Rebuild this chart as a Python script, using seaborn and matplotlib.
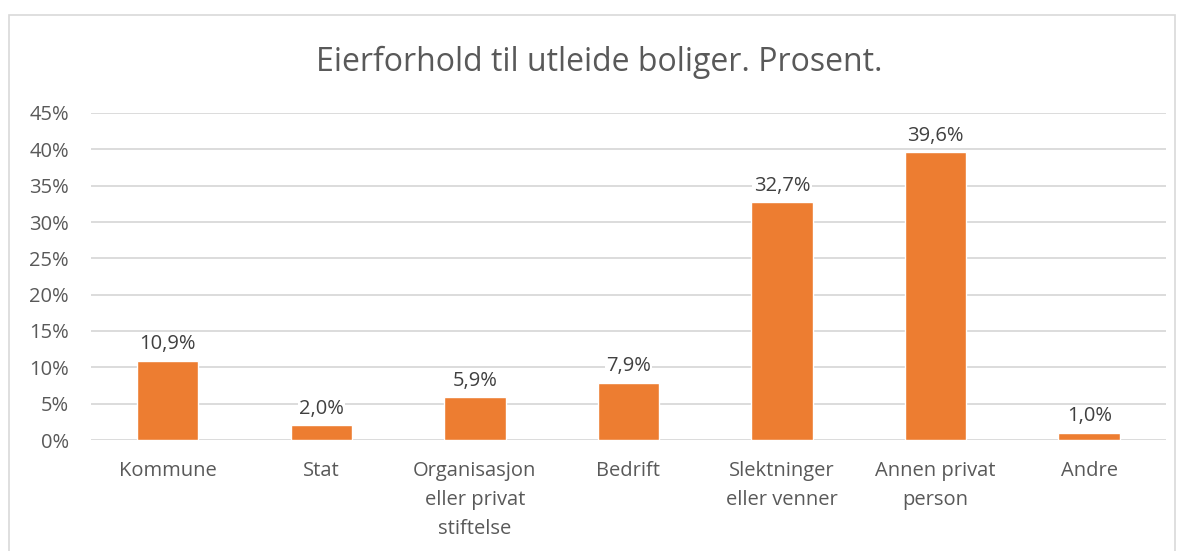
import matplotlib
matplotlib.use("Agg")
import matplotlib.pyplot as plt
from matplotlib.patches import Rectangle
import seaborn as sns

# ── Data ──────────────────────────────────────────────────────────────────────
categories = ["Kommune", "Stat", "Organisasjon\neller privat\nstiftelse", "Bedrift",
              "Slektninger\neller venner", "Annen privat\nperson", "Andre"]
values = [10.9, 2.0, 5.9, 7.9, 32.7, 39.6, 1.0]
yticks = [0, 5, 10, 15, 20, 25, 30, 35, 40, 45]
title = "Eierforhold til utleide boliger. Prosent."

ORANGE = "#ED7D31"
GRID = "#D9D9D9"
TICK = "#595959"

sns.set_theme(style="white")
plt.rcParams["font.family"] = ["Open Sans", "DejaVu Sans"]

fig = plt.figure(figsize=(11.84, 5.51), dpi=100)
ax = fig.add_axes([91 / 1184, 1 - 440 / 551, (1166 - 91) / 1184, (440 - 113) / 551])

sns.barplot(x=categories, y=values, color=ORANGE, width=0.4, saturation=1, ax=ax, zorder=3)

ax.set_ylim(0, 45)
ax.set_yticks(yticks)
ax.set_yticklabels([f"{t}%" for t in yticks], fontsize=14.5, color=TICK)
ax.set_xticks(range(len(categories)))
ax.set_xticklabels(categories, fontsize=14.5, color=TICK, linespacing=1.6, va="top")
ax.tick_params(axis="x", length=0, pad=15)
ax.tick_params(axis="y", length=0, pad=16)
ax.grid(axis="y", color=GRID, linewidth=1.3, zorder=0)
ax.set_axisbelow(True)
for s in ax.spines.values():
    s.set_visible(False)
ax.set_xlabel("")
ax.set_ylabel("")

for i, v in enumerate(values):
    ax.text(i, v + 0.9, f"{v:.1f}%".replace(".", ","), ha="center", va="bottom",
            fontsize=14.5, color="#404040", zorder=4,
            bbox=dict(facecolor="white", edgecolor="none", pad=1.0))

fig.text(0.506, 1 - 62 / 551, title, ha="center", va="center", fontsize=23, color=TICK)

# chart border
fig.patches.append(Rectangle((9 / 1184, -0.05), (1175 - 9) / 1184, 1.05 - 15 / 551,
                             transform=fig.transFigure, fill=False,
                             edgecolor=GRID, linewidth=1.2))

plt.savefig("out.png", dpi=100)
